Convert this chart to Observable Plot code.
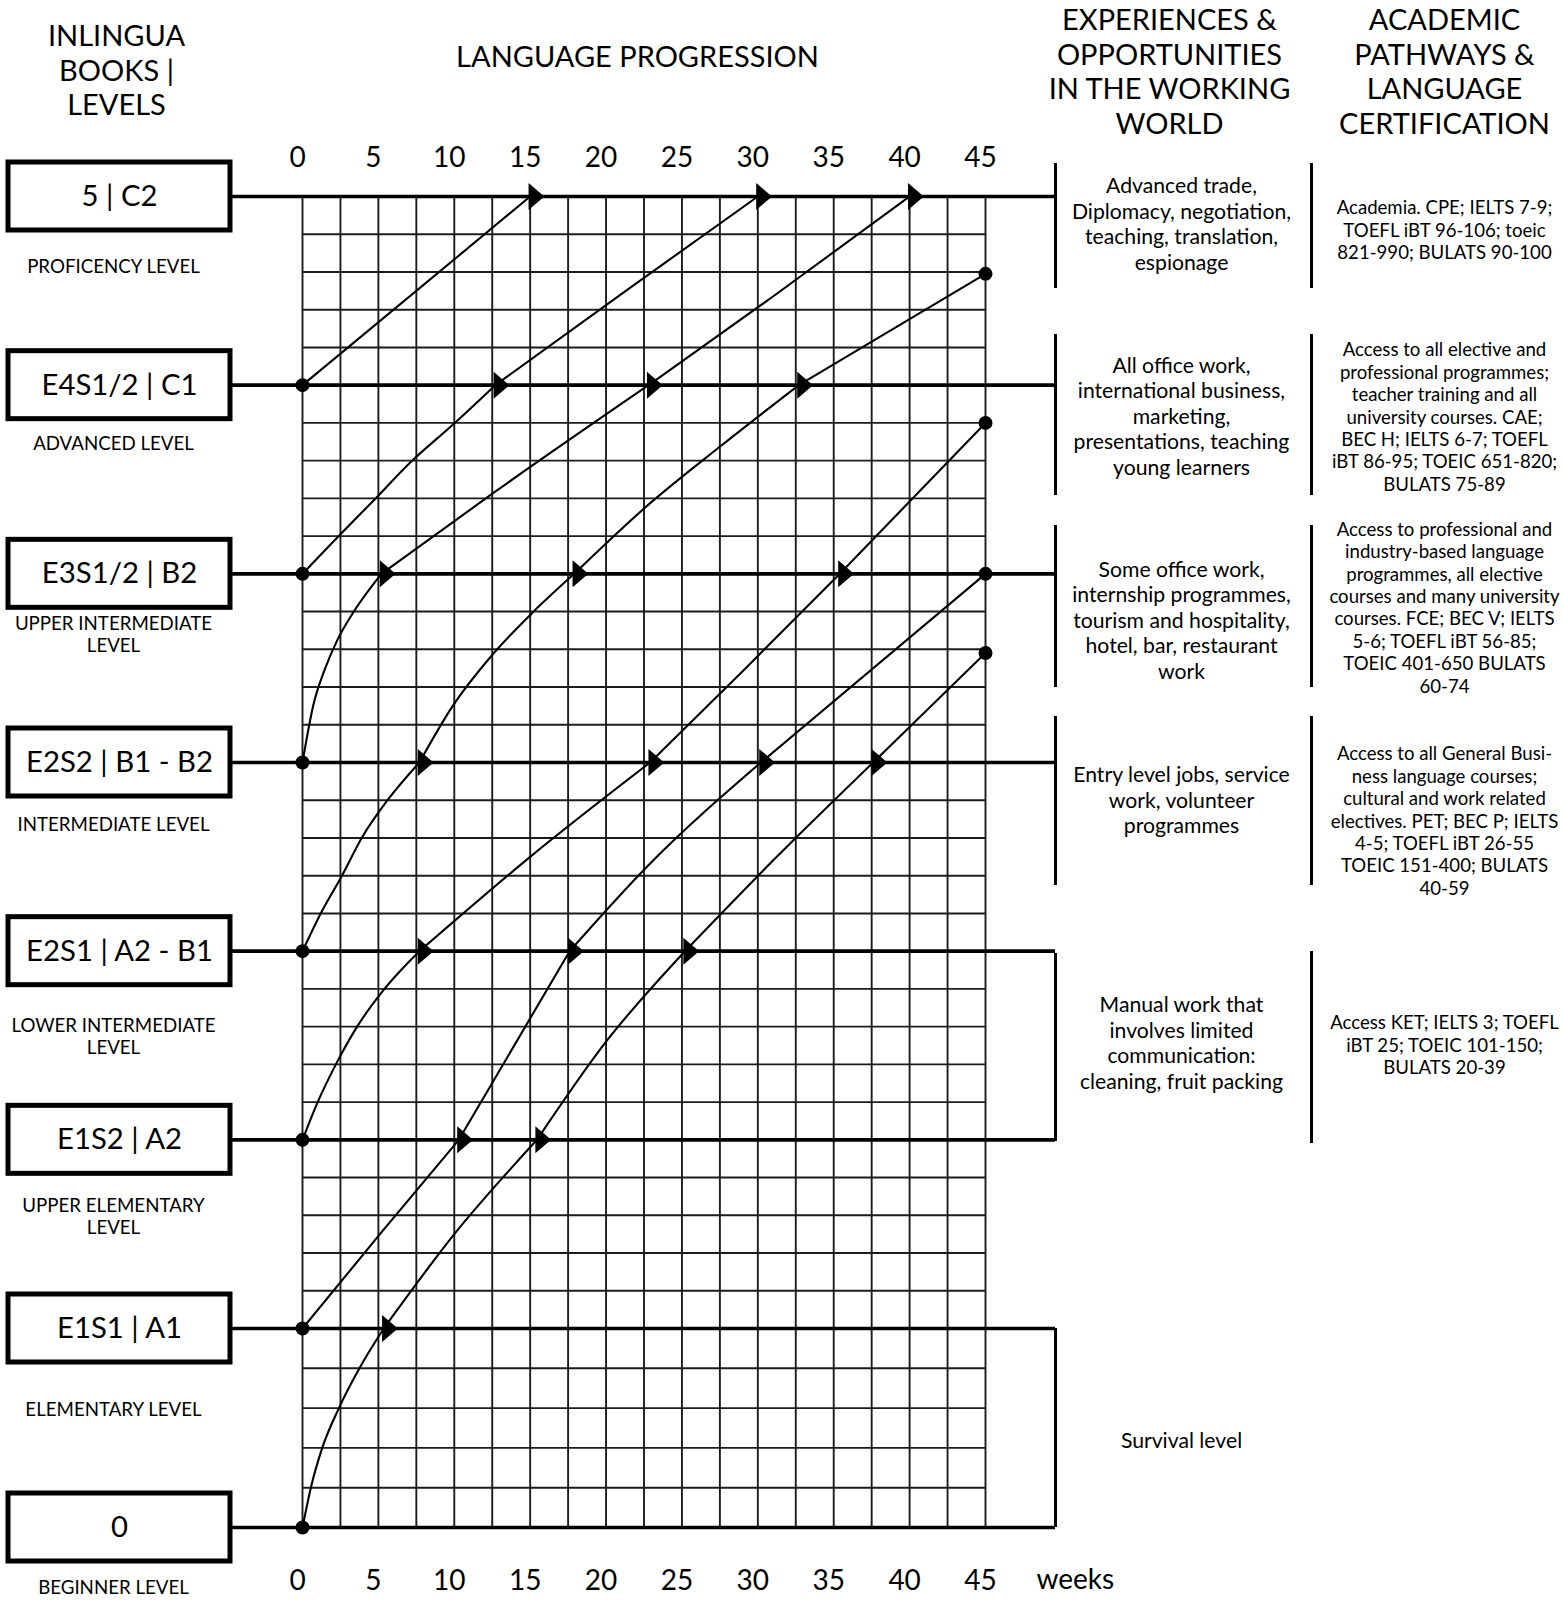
<!DOCTYPE html>
<html><head><meta charset="utf-8">
<script src="https://cdn.jsdelivr.net/npm/d3@7"></script>
<script src="https://cdn.jsdelivr.net/npm/@observablehq/plot@0.6"></script>
<style>
html,body{margin:0;padding:0;background:#fff;overflow:hidden;}
#chart svg{display:block;}
</style></head><body><div id="chart"></div>
<script>
// ---------------- DATA ----------------
const levelCodes = ["0", "E1S1 | A1", "E1S2 | A2", "E2S1 | A2 - B1", "E2S2 | B1 - B2", "E3S1/2 | B2", "E4S1/2 | C1", "5 | C2"];
const levelNames = ["BEGINNER LEVEL", "ELEMENTARY LEVEL", "UPPER ELEMENTARY\nLEVEL", "LOWER INTERMEDIATE\nLEVEL", "INTERMEDIATE LEVEL", "UPPER INTERMEDIATE\nLEVEL", "ADVANCED LEVEL", "PROFICENCY LEVEL"];
const weekTicks = [0, 5, 10, 15, 20, 25, 30, 35, 40, 45];
// learner paths: [week, level index]
const path1 = [[0,6],[15,7]];
const path2 = [[0,5],[2.5,5.21],[4.7,5.39],[7.1,5.59],[9.9,5.79],[12.7,6],[21.3,6.5],[30,7]];
const path3 = [[0,4],[0.7,4.3],[1.5,4.5],[2.3,4.65],[3.3,4.79],[5.2,5],[12.6,5.43],[22.8,6],[31,6.47],[40,7]];
const path4 = [[0,3],[1.2,3.2],[2.6,3.4],[3.9,3.6],[5.6,3.8],[7.7,4],[9.9,4.3],[12.5,4.57],[15.1,4.79],[17.9,5],[22.7,5.36],[27.6,5.68],[32.7,6],[45,6.59]];
const path5 = [[0,2],[1.0,2.2],[2.2,2.4],[3.6,2.6],[5.4,2.8],[7.7,3],[15,3.5],[22.9,4],[29.2,4.5],[35.4,5],[45,5.8]];
const path6 = [[0,1],[5.1,1.5],[10.3,2],[17.6,3],[22.6,3.44],[30.2,4],[45,5]];
const path7 = [[0,0],[0.55,0.2],[1.3,0.4],[2.4,0.6],[3.75,0.8],[5.35,1],[10,1.5],[15.45,2],[20,2.52],[25.2,3],[31,3.48],[37.6,4],[45,4.58]];
const paths = [path1, path2, path3, path4, path5, path6, path7];
const workWorld = [
  "Advanced trade,\nDiplomacy, negotiation,\nteaching, translation,\nespionage",
  "All office work,\ninternational business,\nmarketing,\npresentations, teaching\nyoung learners",
  "Some office work,\ninternship programmes,\ntourism and hospitality,\nhotel, bar, restaurant\nwork",
  "Entry level jobs, service\nwork, volunteer\nprogrammes",
  "Manual work that\ninvolves limited\ncommunication:\ncleaning, fruit packing",
  "Survival level"
];
const academic = [
  "Academia. CPE; IELTS 7-9;\nTOEFL iBT 96-106; toeic\n821-990; BULATS 90-100",
  "Access to all elective and\nprofessional programmes;\nteacher training and all\nuniversity courses. CAE;\nBEC H; IELTS 6-7; TOEFL\niBT 86-95; TOEIC 651-820;\nBULATS 75-89",
  "Access to professional and\nindustry-based language\nprogrammes, all elective\ncourses and many university\ncourses. FCE; BEC V; IELTS\n5-6; TOEFL iBT 56-85;\nTOEIC 401-650 BULATS\n60-74",
  "Access to all General Busi-\nness language courses;\ncultural and work related\nelectives. PET; BEC P; IELTS\n4-5; TOEFL iBT 26-55\nTOEIC 151-400; BULATS\n40-59",
  "Access KET; IELTS 3; TOEFL\niBT 25; TOEIC 101-150;\nBULATS 20-39"
];
const headers = ["INLINGUA\nBOOKS |\nLEVELS", "LANGUAGE PROGRESSION", "EXPERIENCES &\nOPPORTUNITIES\nIN THE WORKING\nWORLD", "ACADEMIC\nPATHWAYS &\nLANGUAGE\nCERTIFICATION"];

// ---------------- LAYOUT ----------------
const W = 1563, H = 1600;
const xDomain = [0, 45], xRange = [302, 985];
// level index -> vertical position (the beginner step is a little taller)
const ys = d3.scaleLinear().domain([0, 1, 7]).range([1527, 1328, 196]);
const xs = d3.scaleLinear().domain(xDomain).range(xRange);
const xAt = px => xs.invert(px);
const yAt = px => ys.invert(px);
const levels = d3.range(levelCodes.length);
const gridLevels = [];
for (let L = 0; L < 7; L++) for (let k = 1; k < 5; k++) gridLevels.push(L + k / 5);
const gridWeeks = d3.range(0, 45.01, 2.5);
const nameOffset = [59, 80, 76, 84.5, 61, 60.5, 58, 69];
const workCenters = [223, 415, 619, 799, 1042, 1439];
const acadCenters = [229, 416, 606.5, 820, 1044];
const headerPos = [[116, 69], [637, 55], [1169, 70.4], [1444, 70.4]];
const sepWork = [[163, 288], [334, 495], [525, 687], [716, 885], [953, 1141], [1328, 1527]];
const sepAcad = [[163, 288], [334, 495], [525, 687], [716, 885], [951, 1143]];

// segments split at each level crossing
const segPts = [], arrows = [], dots = [];
paths.forEach((p, i) => {
  let seg = 0;
  p.forEach(([w, l], j) => {
    segPts.push({id: i + "-" + seg, week: w, level: l});
    const last = j === p.length - 1;
    if (j === 0) dots.push({week: w, level: l});
    else if (last && w === 45) dots.push({week: w, level: l});
    else if (Number.isInteger(l)) {
      arrows.push({week: w, level: l});
      if (!last) { seg++; segPts.push({id: i + "-" + seg, week: w, level: l}); }
    }
  });
});

const arrowSymbol = {
  draw(ctx, size) {
    const r = Math.sqrt(size / Math.PI);
    ctx.moveTo(-r * 0.12, -r);
    ctx.lineTo(r * 1.05, 0);
    ctx.lineTo(-r * 0.12, r);
    ctx.closePath();
  }
};

const chart = Plot.plot({
  width: W, height: H,
  marginTop: 196, marginBottom: 73, marginLeft: 0, marginRight: 0,
  style: {fontFamily: "Lato, 'Open Sans', sans-serif", background: "#fff", color: "#000", overflow: "visible"},
  x: {domain: xDomain, range: xRange},
  y: {type: "linear", transform: v => ys(v), domain: [0, H], range: [0, H], axis: null},
  marks: [
    // grid
    Plot.ruleX(gridWeeks, {x: d => d, y1: 0, y2: 7, stroke: "#1c1c1c", strokeWidth: 1.9}),
    Plot.ruleY(gridLevels, {y: d => d, x1: 0, x2: 45, stroke: "#1c1c1c", strokeWidth: 1.9}),
    // level lines
    Plot.ruleY(levels, {y: d => d, insetLeft: 230, insetRight: W - 1055, stroke: "#000", strokeWidth: 3.6}),
    // column separators
    Plot.ruleX(sepWork, {x: xAt(1055), y1: d => yAt(d[0]), y2: d => yAt(d[1]), stroke: "#000", strokeWidth: 3}),
    Plot.ruleX(sepAcad, {x: xAt(1311), y1: d => yAt(d[0]), y2: d => yAt(d[1]), stroke: "#000", strokeWidth: 3}),
    // level boxes
    Plot.rect(levels, {y1: d => d, y2: d => d, insetTop: -34, insetBottom: -34, insetLeft: 8, insetRight: W - 230, fill: "#fff", stroke: "#000", strokeWidth: 5}),
    Plot.text(levels, {x: xAt(119), y: d => d, text: d => levelCodes[d], fontSize: 29.3, fill: "#000"}),
    Plot.text(levels, {x: xAt(113), y: d => yAt(ys(d) + nameOffset[d]), text: d => levelNames[d], fontSize: 18.7, lineHeight: 1.18, fill: "#000"}),
    // learner paths
    Plot.line(segPts, {x: "week", y: "level", z: "id", curve: "monotone-x", stroke: "#000", strokeWidth: 2.1}),
    Plot.dot(dots, {x: "week", y: "level", r: 7, fill: "#000", stroke: "none"}),
    Plot.dot(arrows, {x: "week", y: "level", r: 13.5, symbol: arrowSymbol, fill: "#000", stroke: "none"}),
    // headers
    Plot.text(headers, {x: (d, i) => xAt(headerPos[i][0]), y: (d, i) => yAt(headerPos[i][1]), text: d => d, fontSize: 29, lineHeight: 1.19, fill: "#000"}),
    // right columns
    Plot.text(workWorld, {x: xAt(1181), y: (d, i) => yAt(workCenters[i]), text: d => d, fontSize: 21.2, lineHeight: 1.2, fill: "#000"}),
    Plot.text(academic, {x: xAt(1444), y: (d, i) => yAt(acadCenters[i]), text: d => d, fontSize: 18.6, lineHeight: 1.205, fill: "#000"}),
    // axes
    Plot.axisX(weekTicks, {anchor: "top", tickSize: 0, tickPadding: 30, fontSize: 28, dx: -5, label: null, fill: "#000"}),
    Plot.axisX(weekTicks, {anchor: "bottom", tickSize: 0, tickPadding: 43, fontSize: 28, dx: -5, label: null, fill: "#000"}),
    Plot.text(["weeks"], {x: xAt(1036), y: yAt(1580), text: d => d, textAnchor: "start", fontSize: 28, fill: "#000"})
  ]
});
document.getElementById("chart").appendChild(chart);
</script>
</body></html>
